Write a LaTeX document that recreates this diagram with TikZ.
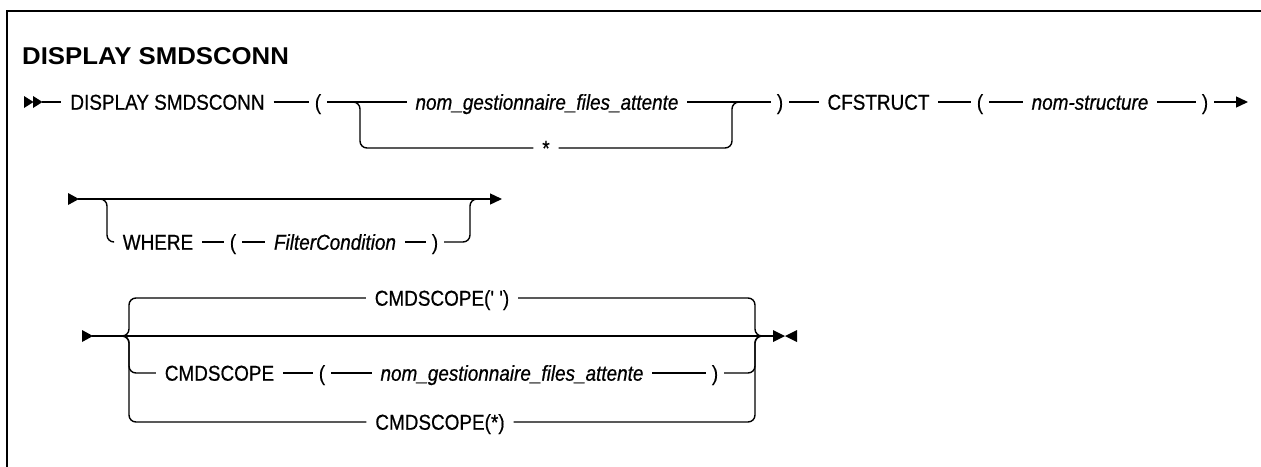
\documentclass[tikz,border=0pt]{standalone}
\usepackage{fontspec}
\newfontfamily\df{Liberation Sans}[FakeStretch=0.88, FakeBold=0.6]
\newfontfamily\tf{Liberation Sans}[FakeStretch=1.06]
\usetikzlibrary{arrows.meta}
\tikzset{
  conn/.style={line width=1.4pt},
  rc/.style={conn, rounded corners=7pt},
  txtnode/.style={font=\df\fontsize{21.5}{24}\selectfont, text height=15.4pt, text depth=0pt, inner ysep=2pt, inner xsep=9pt, outer sep=0pt},
  kwnode/.style={txtnode},
  varnode/.style={txtnode, font=\df\fontsize{21.5}{24}\selectfont\itshape},
  parnode/.style={txtnode, inner xsep=6pt},
  titlenode/.style={font=\tf\fontsize{24.3}{28}\selectfont\bfseries, text height=17.4pt, text depth=0pt, inner sep=0pt, anchor=west},
  endarrow/.style={conn, -{Triangle[length=12pt,width=11pt]}},
  framestyle/.style={line width=2.5pt},
}
\begin{document}
\begin{tikzpicture}[x=1pt,y=-1pt]
\useasboundingbox (0,0) rectangle (1261,466);
% frame
\draw[framestyle] (7,467) -- (7,11) -- (1262,11);
% title
\node[titlenode] (title) at (22,56) {DISPLAY SMDSCONN};

% ---------- row 1 ----------
\fill (24,96) -- (33.5,102) -- (24,108) -- cycle;
\fill (33,96) -- (42.5,102) -- (33,108) -- cycle;
\coordinate (s1) at (42,102);
\node[kwnode] (disp) at (167.5,102) {DISPLAY SMDSCONN};
\node[parnode] (lp1) at (318,102) {(};
\node[varnode] (q1) at (547,102) {nom\_gestionnaire\_files\_attente};
\node[kwnode] (st1) at (546,148) {*};
\node[parnode] (rp1) at (780,102) {)};
\node[kwnode] (cf) at (878.5,102) {CFSTRUCT};
\node[parnode] (lp1b) at (980,102) {(};
\node[varnode] (ns) at (1090,102) {nom-structure};
\node[parnode] (rp1b) at (1205,102) {)};
\coordinate (e1) at (1248,102);
\coordinate (j1a) at (350,102);
\coordinate (j1b) at (360,148);
\coordinate (j1c) at (732,148);
\coordinate (j1d) at (742,102);
\draw[conn] (s1) -- (disp);
\draw[conn] (disp) -- (lp1);
\draw[conn] (lp1) -- (q1);
\draw[conn] (q1) -- (rp1);
\draw[rc] (j1a) -| (j1b) -- (st1);
\draw[rc] (st1) -- (j1c) |- (j1d);
\draw[conn] (rp1) -- (cf);
\draw[conn] (cf) -- (lp1b);
\draw[conn] (lp1b) -- (ns);
\draw[conn] (ns) -- (rp1b);
\draw[endarrow] (rp1b) -- (e1);

% ---------- row 2 ----------
\fill (68,193) -- (79,199) -- (68,205) -- cycle;
\coordinate (s2) at (78,199);
\coordinate (e2) at (502,199);
\draw[endarrow] (s2) -- (e2);
\coordinate (j2a) at (97,199);
\coordinate (j2b) at (107,242);
\coordinate (j2c) at (470,242);
\coordinate (j2d) at (480,199);
\node[kwnode] (wh) at (158,242) {WHERE};
\node[parnode] (lp2) at (233,242) {(};
\node[varnode] (fc) at (335,242) {FilterCondition};
\node[parnode] (rp2) at (435,242) {)};
\draw[rc] (j2a) -| (j2b) -- (wh);
\draw[conn] (wh) -- (lp2);
\draw[conn] (lp2) -- (fc);
\draw[conn] (fc) -- (rp2);
\draw[rc] (rp2) -- (j2c) |- (j2d);

% ---------- row 3 ----------
\fill (82,330) -- (93,336) -- (82,342) -- cycle;
\coordinate (s3) at (92,336);
\coordinate (e3) at (773,336);
\draw[conn] (s3) -- (e3);
\fill (773,330) -- (785,336) -- (773,342) -- cycle;
\fill (797,330) -- (785,336) -- (797,342) -- cycle;
\coordinate (j3a) at (119,336);
\coordinate (j3b) at (129,298);
\coordinate (j3e) at (129,373);
\coordinate (j3g) at (129,422);
\coordinate (j3c) at (755,298);
\coordinate (j3f) at (755,373);
\coordinate (j3h) at (755,422);
\coordinate (j3d) at (765,336);
\node[kwnode] (c1) at (442,298) {CMDSCOPE(' ')};
\node[kwnode] (cm) at (219.5,373) {CMDSCOPE};
\node[parnode] (lp3) at (322,373) {(};
\node[varnode] (q3) at (512,373) {nom\_gestionnaire\_files\_attente};
\node[parnode] (rp3) at (715,373) {)};
\node[kwnode] (c3) at (440,422) {CMDSCOPE(*)};
\draw[rc] (j3a) -| (j3b) -- (c1);
\draw[rc] (c1) -- (j3c) |- (j3d);
\draw[rc] (j3a) -| (j3e) -- (cm);
\draw[conn] (cm) -- (lp3);
\draw[conn] (lp3) -- (q3);
\draw[conn] (q3) -- (rp3);
\draw[rc] (rp3) -- (j3f) |- (j3d);
\draw[rc] (j3a) -| (j3g) -- (c3);
\draw[rc] (c3) -- (j3h) |- (j3d);
\end{tikzpicture}
\end{document}
